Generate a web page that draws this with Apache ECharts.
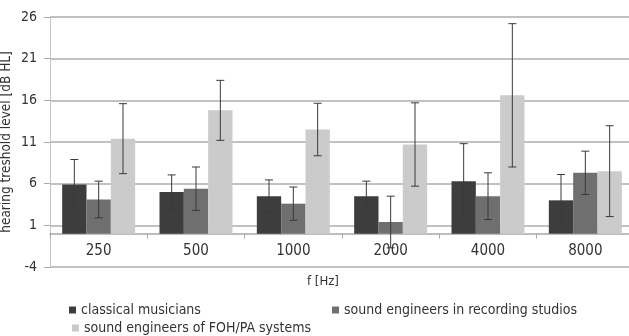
<!DOCTYPE html>
<html>
<head>
<meta charset="utf-8">
<script src="https://cdn.jsdelivr.net/npm/echarts@6/dist/echarts.min.js"></script>
<style>html,body{margin:0;padding:0;background:#fff}#c{width:629px;height:336px}</style>
</head>
<body>
<div id="c"></div>
<script>
const categories = ['250', '500', '1000', '2000', '4000', '8000'];
const seriesNames = ['classical musicians', 'sound engineers in recording studios', 'sound engineers of FOH/PA systems'];
const classical = [5.9, 5.0, 4.5, 4.5, 6.3, 4.0];
const classicalErr = [3.0, 2.05, 1.95, 1.8, 4.5, 3.1];
const recording = [4.1, 5.4, 3.6, 1.4, 4.5, 7.3];
const recordingErr = [2.2, 2.6, 2.0, 3.1, 2.8, 2.6];
const foh = [11.4, 14.8, 12.5, 10.7, 16.6, 7.5];
const fohErr = [4.2, 3.6, 3.15, 5.0, 8.6, 5.45];
const yTicks = { min: -4, max: 26, step: 5 };

const FONT = '"DejaVu Sans Condensed", "Liberation Sans Narrow", "DejaVu Sans", sans-serif';
const colors = ['#3d3d3d', '#6f6f6f', '#cbcbcb'];
const values = [classical, recording, foh];
const errs = [classicalErr, recordingErr, fohErr];
const CAT_GAP = 0.25;
const GRID_TOP = 17, GRID_BOTTOM = 69, CHART_H = 336;
// pixel distance from the bottom of the plot (-4) up to the zero baseline
const plotH = CHART_H - GRID_TOP - GRID_BOTTOM;
const zeroOffset = plotH * (0 - yTicks.min) / (yTicks.max - yTicks.min);

function errSeries(idx) {
  return {
    type: 'custom',
    z: 5,
    silent: true,
    data: categories.map((c, i) => [i, values[idx][i], errs[idx][i]]),
    renderItem: function (params, api) {
      const cat = api.value(0), v = api.value(1), e = api.value(2);
      const band = api.size([1, 0])[0];
      const bw = band * (1 - CAT_GAP) / 3;
      const cx = api.coord([cat, v])[0] + (idx - 1) * bw;
      const yt = api.coord([cat, v + e])[1];
      const yb = api.coord([cat, v - e])[1];
      const cap = 4;
      const st = { stroke: '#3a3a3a', lineWidth: 1 };
      return {
        type: 'group',
        children: [
          { type: 'line', shape: { x1: cx, y1: yt, x2: cx, y2: yb }, style: st },
          { type: 'line', shape: { x1: cx - cap, y1: yt, x2: cx + cap, y2: yt }, style: st },
          { type: 'line', shape: { x1: cx - cap, y1: yb, x2: cx + cap, y2: yb }, style: st }
        ]
      };
    }
  };
}

const chart = echarts.init(document.getElementById('c'), null, { renderer: 'canvas' });
const legendBase = {
  icon: 'rect', itemWidth: 7, itemHeight: 7, itemGap: 10, padding: 0,
  textStyle: { fontFamily: FONT, fontSize: 14, color: '#333' },
  selectedMode: false
};
chart.setOption({
  animation: false,
  color: colors,
  grid: { left: 50, right: -5, top: GRID_TOP, bottom: GRID_BOTTOM, containLabel: false, outerBoundsMode: 'none' },
  legend: [
    Object.assign({}, legendBase, { data: [seriesNames[0]], left: 69, top: 303 }),
    Object.assign({}, legendBase, { data: [seriesNames[1]], left: 332, top: 303 }),
    Object.assign({}, legendBase, { data: [seriesNames[2]], left: 72, top: 321 })
  ],
  xAxis: {
    type: 'category',
    data: categories,
    position: 'bottom',
    offset: -zeroOffset,
    axisLine: { onZero: false, lineStyle: { color: '#a8a8a8', width: 1.5 } },
    axisTick: { show: true, length: 5, lineStyle: { color: '#a8a8a8' } },
    axisLabel: { margin: 10, fontFamily: FONT, fontSize: 15, color: '#333' }
  },
  yAxis: {
    type: 'value',
    min: yTicks.min, max: yTicks.max, interval: yTicks.step,
    name: 'hearing treshold level [dB HL]',
    nameLocation: 'middle',
    nameGap: 37,
    nameMoveOverlap: false,
    nameTextStyle: { fontFamily: FONT, fontSize: 13.5, color: '#333' },
    axisLine: { show: true, lineStyle: { color: '#c4c4c4', width: 1 } },
    axisTick: { show: true, length: 6, lineStyle: { color: '#a8a8a8' } },
    axisLabel: { margin: 13, fontFamily: FONT, fontSize: 14, color: '#333' },
    splitLine: { show: true, lineStyle: { color: '#acacac', width: 1.5 } }
  },
  graphic: [
    { type: 'text', left: 307, top: 275, style: { text: 'f [Hz]', font: '13px ' + FONT, fill: '#333' } }
  ],
  series: [
    { name: seriesNames[0], type: 'bar', data: classical, barGap: 0, barCategoryGap: '25%', itemStyle: { color: colors[0] } },
    { name: seriesNames[1], type: 'bar', data: recording, barGap: 0, barCategoryGap: '25%', itemStyle: { color: colors[1] } },
    { name: seriesNames[2], type: 'bar', data: foh, barGap: 0, barCategoryGap: '25%', itemStyle: { color: colors[2] } },
    errSeries(0), errSeries(1), errSeries(2)
  ]
});
</script>
</body>
</html>
